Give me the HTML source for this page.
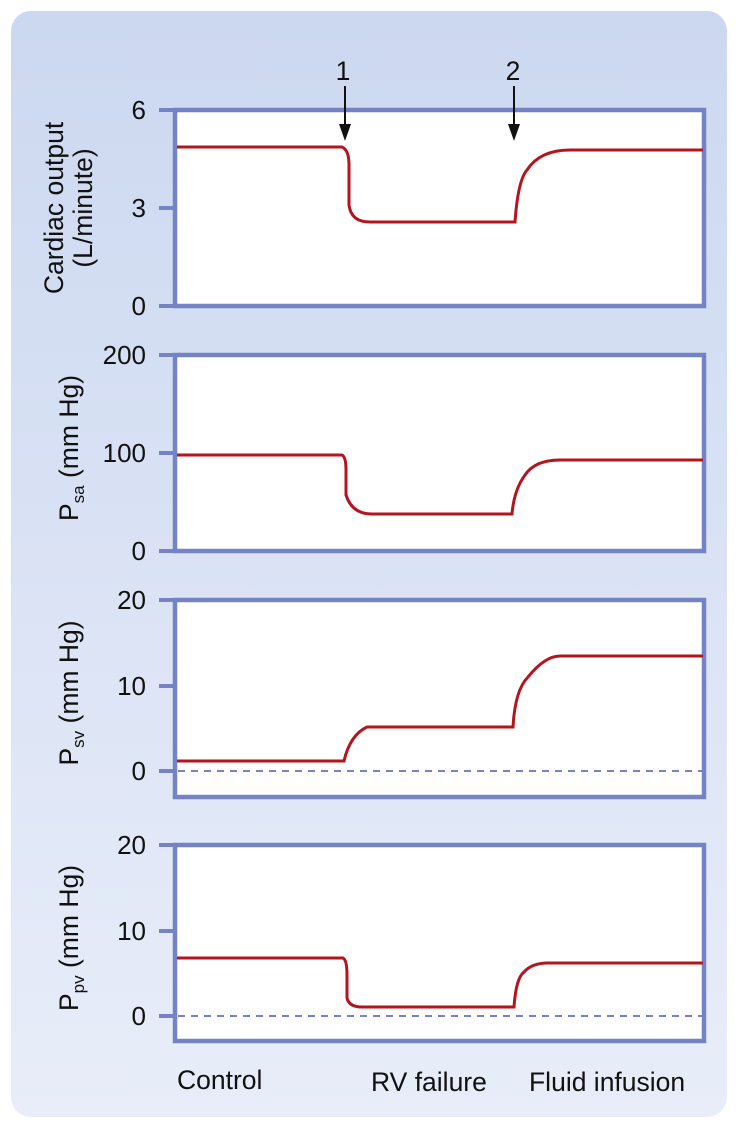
<!DOCTYPE html>
<html><head><style>
html,body{margin:0;padding:0;background:#fff;}
svg{display:block;font-family:"Liberation Sans",sans-serif;}
</style></head><body>
<svg width="740" height="1131" viewBox="0 0 740 1131">
<defs>
<linearGradient id="bg" x1="0" y1="0" x2="0" y2="1">
<stop offset="0" stop-color="#ccd8f0"/><stop offset="1" stop-color="#e8edf9"/>
</linearGradient>
</defs>
<rect x="11" y="11" width="716" height="1106" rx="20" fill="url(#bg)"/>
<g fill="#fff" stroke="#7383c4" stroke-width="4.5">
<rect x="175" y="110" width="529" height="196"/>
<rect x="175" y="355" width="529" height="196"/>
<rect x="175" y="600" width="529" height="197"/>
<rect x="175" y="845" width="529" height="196"/>
</g>
<g stroke="#7383c4" stroke-width="4">
<line x1="159" y1="110" x2="175" y2="110"/><line x1="159" y1="208" x2="175" y2="208"/><line x1="159" y1="306" x2="175" y2="306"/>
<line x1="159" y1="355" x2="175" y2="355"/><line x1="159" y1="453" x2="175" y2="453"/><line x1="159" y1="551" x2="175" y2="551"/>
<line x1="159" y1="600" x2="175" y2="600"/><line x1="159" y1="686" x2="175" y2="686"/><line x1="159" y1="771" x2="175" y2="771"/>
<line x1="159" y1="845" x2="175" y2="845"/><line x1="159" y1="931" x2="175" y2="931"/><line x1="159" y1="1016" x2="175" y2="1016"/>
</g>
<g stroke="#7383c4" stroke-width="2" stroke-dasharray="7,6">
<line x1="178" y1="771" x2="702" y2="771"/>
<line x1="178" y1="1016" x2="702" y2="1016"/>
</g>
<g fill="none" stroke="#b3151f" stroke-width="3">
<path d="M177 147 L342 147 Q349 150 349 165 L349 205 Q351 222 370 222 L515 222 Q518 180 527 170 Q540 150 570 150 L703 150"/>
<path d="M177 455 L342 455 Q346 457 346 470 L346 495 Q352 514 372 514 L512 514 Q514 490 525 475 Q535 460 560 460 L703 460"/>
<path d="M177 761 L344 761 Q350 735 367 727 L513 727 Q515 690 528 677 Q545 656 560 656 L703 656"/>
<path d="M177 958 L343 958 Q347 960 347 975 L347 998 Q349 1007 362 1007 L514 1007 Q516 978 524 972 Q532 963 548 963 L703 963"/>
</g>
<g font-size="26" fill="#111" text-anchor="end">
<text x="146" y="119">6</text><text x="146" y="217">3</text><text x="146" y="315">0</text>
<text x="146" y="364">200</text><text x="146" y="462">100</text><text x="146" y="560">0</text>
<text x="146" y="609">20</text><text x="146" y="695">10</text><text x="146" y="780">0</text>
<text x="146" y="854">20</text><text x="146" y="940">10</text><text x="146" y="1025">0</text>
</g>
<g font-size="26.5" fill="#111" text-anchor="middle">
<text transform="translate(63 208) rotate(-90)">Cardiac output</text>
<text transform="translate(92 208) rotate(-90)">(L/minute)</text>
<text transform="translate(78 448) rotate(-90)">P<tspan font-size="17" dy="6">sa</tspan><tspan dy="-6"> (mm Hg)</tspan></text>
<text transform="translate(78 693) rotate(-90)">P<tspan font-size="17" dy="6">sv</tspan><tspan dy="-6"> (mm Hg)</tspan></text>
<text transform="translate(78 938) rotate(-90)">P<tspan font-size="17" dy="6">pv</tspan><tspan dy="-6"> (mm Hg)</tspan></text>
<text x="343" y="80">1</text>
<text x="513" y="80">2</text>
</g>
<g stroke="#111" stroke-width="2"><line x1="345" y1="86" x2="345" y2="128"/><line x1="514" y1="86" x2="514" y2="128"/></g>
<g fill="#111"><path d="M339 124 L351 124 L345 141Z"/><path d="M508 124 L520 124 L514 141Z"/></g>
<g font-size="26.5" fill="#111">
<text x="177" y="1089">Control</text>
<text x="371" y="1091">RV failure</text>
<text x="529" y="1091">Fluid infusion</text>
</g>
</svg>
</body></html>
